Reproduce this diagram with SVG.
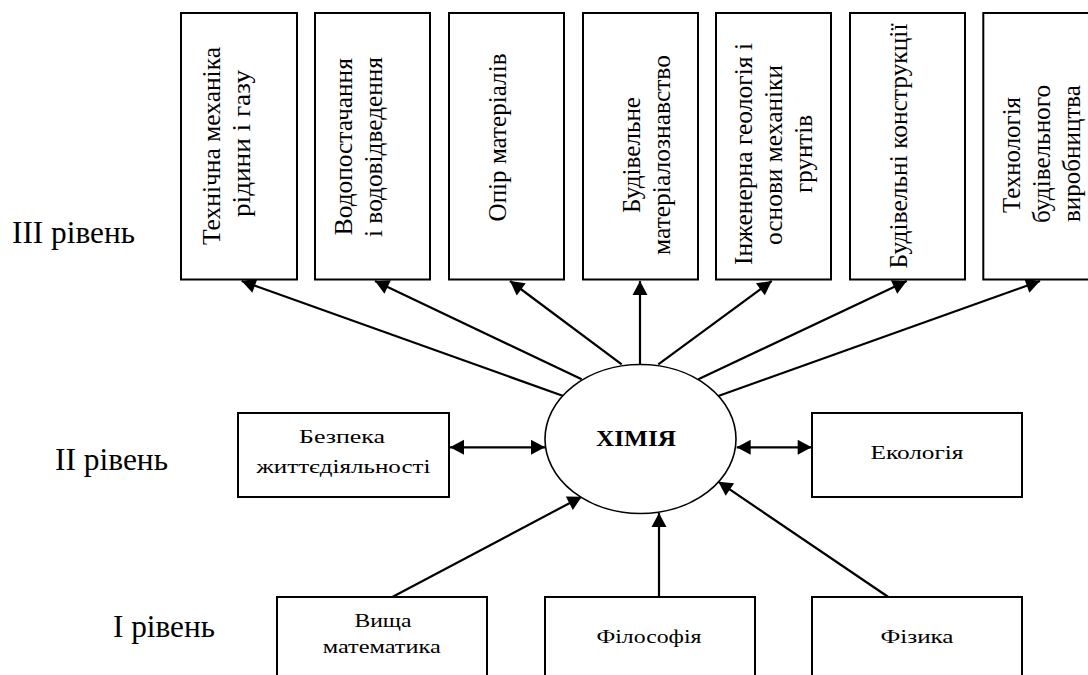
<svg xmlns="http://www.w3.org/2000/svg" width="1088" height="675" viewBox="0 0 1088 675">
<style>
.box{fill:#fff;stroke:#000;stroke-width:2}
.ell{fill:#fff;stroke:#000;stroke-width:1.6}
.t{font-family:"Liberation Serif","Times New Roman",serif;fill:#000;text-anchor:middle}
.v{font-size:25px}
.h{font-size:19.5px}
.lvl{font-family:"Liberation Serif","Times New Roman",serif;font-size:31px;fill:#000}
.c{stroke:#000;stroke-width:2.2;fill:none}
.a{marker-end:url(#ah)}
.d{marker-start:url(#ah);marker-end:url(#ah)}
</style>
<defs>
<marker id="ah" markerUnits="userSpaceOnUse" markerWidth="30" markerHeight="30" refX="0" refY="0" orient="auto-start-reverse" overflow="visible" viewBox="-15 -15 30 30">
<path d="M0,0 L-14,-7.5 L-14,7.5 Z" fill="#000"/>
</marker>
</defs>
<rect width="1088" height="675" fill="#fff"/>

<g id="levels">
<text class="lvl" x="12" y="243" textLength="123" lengthAdjust="spacingAndGlyphs">III рівень</text>
<text class="lvl" x="55" y="470" textLength="113" lengthAdjust="spacingAndGlyphs">II рівень</text>
<text class="lvl" x="113" y="637" textLength="102" lengthAdjust="spacingAndGlyphs">I рівень</text>
</g>

<g id="connectors">
<path class="c a" d="M563.3,396 L241.7,281"/>
<path class="c a" d="M581.7,379.3 L375,281"/>
<path class="c a" d="M621.7,364.3 L510,281"/>
<path class="c a" d="M640,364.5 L640,281"/>
<path class="c a" d="M658.3,364.3 L771.7,281"/>
<path class="c a" d="M698.3,379.3 L906.7,281"/>
<path class="c a" d="M718.3,396 L1040,281"/>
<path class="c d" d="M450,447.3 L545,447.3"/>
<path class="c d" d="M736.7,447.3 L811.7,447.3"/>
<path class="c a" d="M392.3,597 L581.7,496.7"/>
<path class="c a" d="M659,597 L659,513"/>
<path class="c a" d="M888.3,597 L718.3,481.7"/>
</g>

<g id="n1">
<rect class="box" x="181" y="13" width="116" height="266.5"/>
<text class="t v" transform="translate(220,146) rotate(-90)" textLength="198" lengthAdjust="spacingAndGlyphs">Технічна механіка</text>
<text class="t v" transform="translate(250,143.5) rotate(-90)" textLength="147" lengthAdjust="spacingAndGlyphs">рідини і газу</text>
</g>
<g id="n2">
<rect class="box" x="315" y="13" width="115" height="266.5"/>
<text class="t v" transform="translate(352,146.7) rotate(-90)" textLength="177" lengthAdjust="spacingAndGlyphs">Водопостачання</text>
<text class="t v" transform="translate(382,147) rotate(-90)" textLength="180" lengthAdjust="spacingAndGlyphs">і водовідведення</text>
</g>
<g id="n3">
<rect class="box" x="449" y="13" width="115" height="266.5"/>
<text class="t v" transform="translate(506,137.5) rotate(-90)" textLength="168" lengthAdjust="spacingAndGlyphs">Опір матеріалів</text>
</g>
<g id="n4">
<rect class="box" x="583" y="13" width="115" height="266.5"/>
<text class="t v" transform="translate(640,155) rotate(-90)" textLength="116" lengthAdjust="spacingAndGlyphs">Будівельне</text>
<text class="t v" transform="translate(670,155) rotate(-90)" textLength="200" lengthAdjust="spacingAndGlyphs">матеріалознавство</text>
</g>
<g id="n5">
<rect class="box" x="716" y="13" width="115" height="266.5"/>
<text class="t v" transform="translate(752,154) rotate(-90)" textLength="222" lengthAdjust="spacingAndGlyphs">Інженерна геологія і</text>
<text class="t v" transform="translate(782,155) rotate(-90)" textLength="180" lengthAdjust="spacingAndGlyphs">основи механіки</text>
<text class="t v" transform="translate(812,154) rotate(-90)" textLength="78" lengthAdjust="spacingAndGlyphs">грунтів</text>
</g>
<g id="n6">
<rect class="box" x="850" y="13" width="115" height="266.5"/>
<text class="t v" transform="translate(906.5,146) rotate(-90)" textLength="245" lengthAdjust="spacingAndGlyphs">Будівельні конструкції</text>
</g>
<g id="n7">
<rect class="box" x="983.3" y="13" width="116" height="266.5"/>
<text class="t v" transform="translate(1020,155) rotate(-90)" textLength="116" lengthAdjust="spacingAndGlyphs">Технологія</text>
<text class="t v" transform="translate(1050,154) rotate(-90)" textLength="138" lengthAdjust="spacingAndGlyphs">будівельного</text>
<text class="t v" transform="translate(1080,153.5) rotate(-90)" textLength="137" lengthAdjust="spacingAndGlyphs">виробництва</text>
</g>

<g id="n-bzh">
<rect class="box" x="238" y="413" width="211" height="84"/>
<text class="t h" x="342" y="443" textLength="86" lengthAdjust="spacingAndGlyphs">Безпека</text>
<text class="t h" x="343.5" y="473" textLength="174" lengthAdjust="spacingAndGlyphs">життєдіяльності</text>
</g>
<g id="n-chem">
<ellipse class="ell" cx="640.5" cy="439" rx="95.5" ry="74.5"/>
<text class="t" x="636" y="446" font-size="24" font-weight="bold" textLength="80" lengthAdjust="spacingAndGlyphs">ХІМІЯ</text>
</g>
<g id="n-eco">
<rect class="box" x="812" y="413" width="210" height="84"/>
<text class="t h" x="917" y="459" textLength="93" lengthAdjust="spacingAndGlyphs">Екологія</text>
</g>

<g id="n-math">
<rect class="box" x="277" y="597" width="210" height="100"/>
<text class="t h" x="383" y="627" textLength="57" lengthAdjust="spacingAndGlyphs">Вища</text>
<text class="t h" x="381.7" y="653" textLength="118" lengthAdjust="spacingAndGlyphs">математика</text>
</g>
<g id="n-phil">
<rect class="box" x="545" y="597" width="210" height="100"/>
<text class="t h" x="649" y="643" textLength="105" lengthAdjust="spacingAndGlyphs">Філософія</text>
</g>
<g id="n-phys">
<rect class="box" x="812" y="597" width="210" height="100"/>
<text class="t h" x="917" y="643" textLength="73" lengthAdjust="spacingAndGlyphs">Фізика</text>
</g>
</svg>
